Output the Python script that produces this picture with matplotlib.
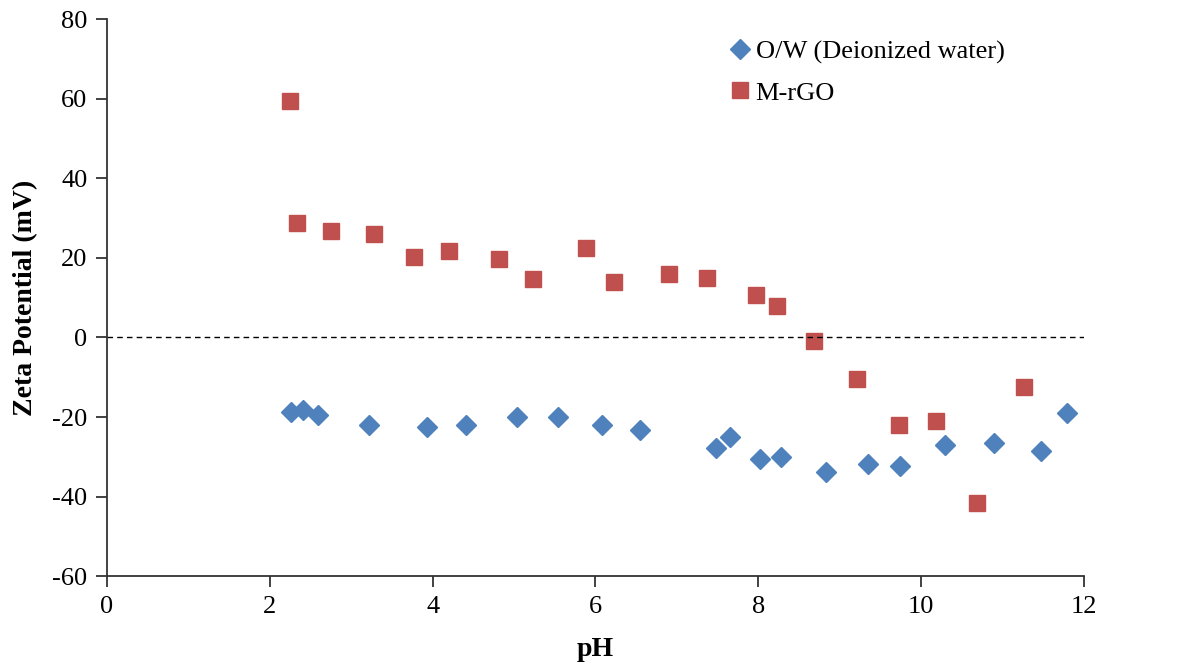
import matplotlib.pyplot as plt

# O/W (Deionized water)
ph_ow = [2.26, 2.41, 2.59, 3.22, 3.93, 4.41, 5.04, 5.54, 6.08, 6.55, 7.48, 7.65,
         8.02, 8.28, 8.83, 9.35, 9.74, 10.29, 10.90, 11.47, 11.79]
zeta_ow = [-18.8, -18.3, -19.5, -22.0, -22.5, -22.0, -20.0, -20.0, -22.0, -23.3, -27.7, -25.0,
           -30.6, -30.1, -33.8, -31.8, -32.3, -27.1, -26.6, -28.6, -19.0]

# M-rGO
ph_rgo = [2.25, 2.33, 2.75, 3.28, 3.77, 4.20, 4.82, 5.23, 5.88, 6.23, 6.90, 7.37,
          7.97, 8.23, 8.69, 9.21, 9.73, 10.18, 10.69, 11.27]
zeta_rgo = [59.4, 28.7, 26.7, 26.0, 20.2, 21.7, 19.7, 14.7, 22.5, 13.9, 15.9, 14.9,
            10.6, 7.9, -0.9, -10.5, -22.0, -21.0, -41.6, -12.5]

plt.rcParams['font.family'] = ['Liberation Serif', 'DejaVu Serif']
plt.rcParams['axes.unicode_minus'] = False

fig = plt.figure(figsize=(11.82, 6.63), dpi=100)
ax = fig.add_axes([0.0905, 0.131, 0.8265, 0.84])

ax.plot(ph_ow, zeta_ow, "D", color="#4F81BD", markersize=10, label="O/W (Deionized water)")
ax.plot(ph_rgo, zeta_rgo, "s", color="#C0504D", markersize=11.5, label="M-rGO")
ax.axhline(0, color="black", linestyle="--", linewidth=1, dashes=(4, 3))

ax.set_xlim(0, 12)
ax.set_ylim(-60, 80)
ax.set_xticks(range(0, 13, 2))
ax.set_yticks(range(-60, 81, 20))
ax.spines["top"].set_visible(False)
ax.spines["right"].set_visible(False)
for s in ["left", "bottom"]:
    ax.spines[s].set_color("#333333")
    ax.spines[s].set_linewidth(1.3)
ax.tick_params(direction="out", length=8, width=1.3, labelsize=19, color="#333333", pad=6)

ax.set_xlabel("pH", fontsize=20, fontweight="bold", labelpad=14)
ax.set_ylabel("Zeta Potential (mV)", fontsize=20, fontweight="bold", labelpad=10)

ax.legend(loc="upper left", bbox_to_anchor=(0.61, 1.005), frameon=False, fontsize=19,
          handletextpad=0.1, handlelength=1.0, labelspacing=0.65)

fig.savefig("out.png", dpi=100)
